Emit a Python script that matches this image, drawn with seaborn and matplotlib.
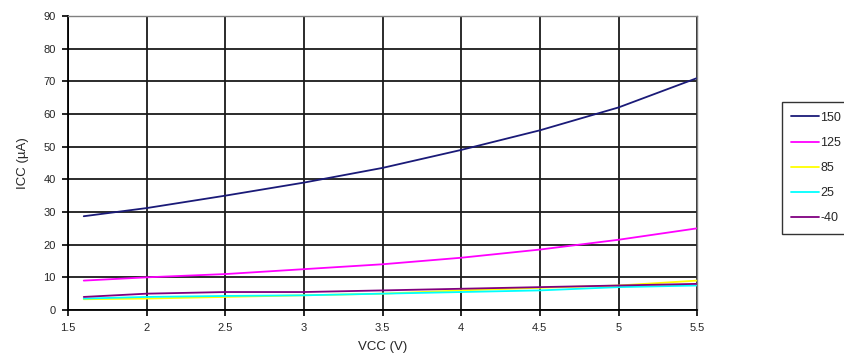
import numpy as np
import pandas as pd
import matplotlib
matplotlib.use("Agg")
import matplotlib.pyplot as plt
import seaborn as sns

# ── Data ──────────────────────────────────────────────────────────────────────
vcc = [1.6, 2.0, 2.5, 3.0, 3.5, 4.0, 4.5, 5.0, 5.5]

icc_150 = [28.7, 31.2, 35.0, 39.0, 43.5, 49.0, 55.0, 62.0, 71.0]
icc_125 = [9.0, 10.0, 11.0, 12.5, 14.0, 16.0, 18.5, 21.5, 25.0]
icc_85 = [3.3, 3.5, 4.0, 4.5, 5.0, 6.0, 6.8, 7.5, 9.0]
icc_25 = [3.5, 4.0, 4.3, 4.5, 5.0, 5.5, 6.0, 7.0, 7.5]
icc_m40 = [4.0, 5.0, 5.5, 5.5, 6.0, 6.5, 7.0, 7.5, 8.0]

temps = ["150", "125", "85", "25", "-40"]
series = [icc_150, icc_125, icc_85, icc_25, icc_m40]
colors = ["#1a1a78", "#ff00ff", "#ffff00", "#00ffff", "#800080"]

x_ticks = [1.5, 2, 2.5, 3, 3.5, 4, 4.5, 5, 5.5]
x_tick_labels = ["1.5", "2", "2.5", "3", "3.5", "4", "4.5", "5", "5.5"]
y_ticks = list(range(0, 100, 10))

df = pd.DataFrame({
    "VCC": vcc * len(temps),
    "ICC": [v for s in series for v in s],
    "Temp": [t for t in temps for _ in vcc],
})

sns.set_theme(style="white")
plt.rcParams["font.family"] = ["Liberation Sans", "DejaVu Sans"]

fig = plt.figure(figsize=(8.44, 3.63), dpi=100)
ax = fig.add_axes([0.0806, 0.146, 0.7454, 0.81])

sns.lineplot(data=df, x="VCC", y="ICC", hue="Temp", hue_order=temps,
             palette=dict(zip(temps, colors)), linewidth=1.3, ax=ax,
             legend=False)

ax.set_xlim(1.5, 5.5)
ax.set_ylim(0, 90)
ax.set_xticks(x_ticks)
ax.set_xticklabels(x_tick_labels, fontsize=8)
ax.set_yticks(y_ticks)
ax.set_yticklabels([str(v) for v in y_ticks], fontsize=8)
ax.grid(True, color="#1a1a1a", linewidth=1.3)
ax.set_axisbelow(True)
ax.tick_params(axis="both", direction="out", length=4, width=1.2,
               color="black", bottom=True, left=True, pad=5)
for side in ["left", "bottom"]:
    ax.spines[side].set_color("black")
    ax.spines[side].set_linewidth(1.3)
for side in ["top", "right"]:
    ax.spines[side].set_color("#808080")
    ax.spines[side].set_linewidth(1.0)

ax.set_xlabel("VCC (V)", fontsize=9.5, labelpad=6)
ax.set_ylabel("ICC (\u00b5A)", fontsize=9.5, labelpad=10)

# legend box sits outside the plot, on the right
handles = [plt.Line2D([], [], color=c, linewidth=1.3) for c in colors]
leg = fig.legend(handles, temps, loc="upper left",
                 bbox_to_anchor=(0.919, 0.735), fontsize=9,
                 frameon=True, fancybox=False, edgecolor="black",
                 handlelength=2.2, handletextpad=0.1, labelspacing=1.05,
                 borderpad=0.75)
leg.get_frame().set_linewidth(1.0)

fig.savefig("out.png", dpi=100)
